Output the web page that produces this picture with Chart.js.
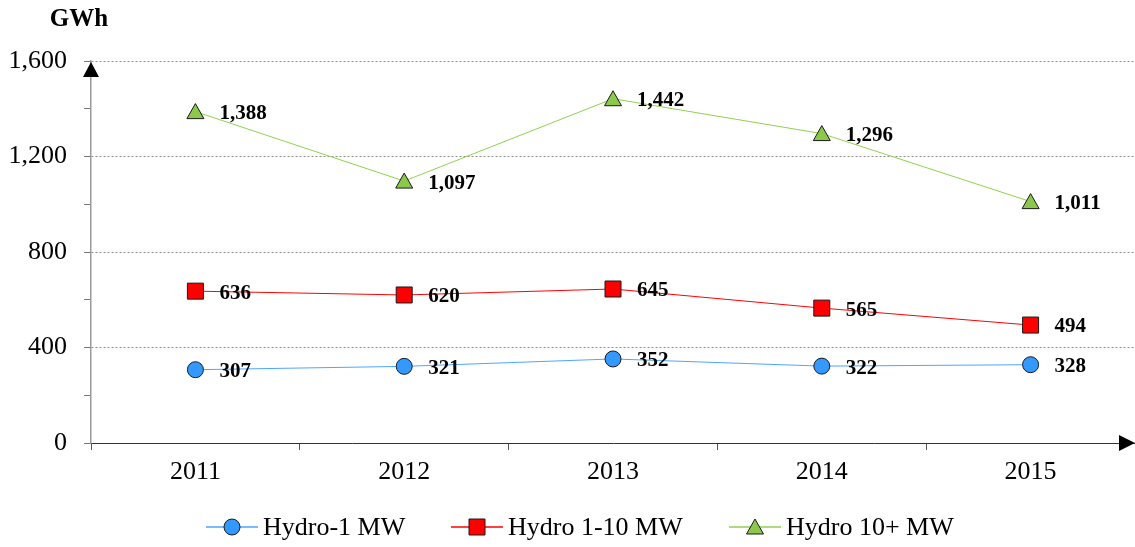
<!DOCTYPE html>
<html>
<head>
<meta charset="utf-8">
<script src="https://cdn.jsdelivr.net/npm/chart.js@4/dist/chart.umd.min.js"></script>
<style>
    html, body { margin: 0; padding: 0; background: #fff; }
    #wrap { width: 1135px; height: 547px; position: relative; }
</style>
</head>
<body>
<div id="wrap"><canvas id="hydroChart" width="1135" height="547"></canvas></div>
<script>
// chart data
const years = ['2011', '2012', '2013', '2014', '2015'];
const hydroSmall = [307, 321, 352, 322, 328];
const hydroMid = [636, 620, 645, 565, 494];
const hydroLarge = [1388, 1097, 1442, 1296, 1011];
const seriesNames = ['Hydro-1 MW', 'Hydro 1-10 MW', 'Hydro 10+ MW'];
const yTicks = [0, 400, 800, 1200, 1600];

const FONT = '"Liberation Serif", "Times New Roman", serif';

// draw a marker like the excel ones
function marker(ctx, style, x, y, fill) {
    ctx.save();
    ctx.fillStyle = fill;
    ctx.strokeStyle = '#1a1a1a';
    ctx.lineWidth = 1;
    ctx.beginPath();
    if (style === 'circle') {
        ctx.arc(x, y, 8, 0, Math.PI * 2);
    } else if (style === 'rect') {
        ctx.rect(x - 8, y - 8, 16, 16);
    } else {
        ctx.moveTo(x, y - 8);
        ctx.lineTo(x + 8.5, y + 7);
        ctx.lineTo(x - 8.5, y + 7);
        ctx.closePath();
    }
    ctx.fill();
    ctx.stroke();
    ctx.restore();
}

const extras = {
    id: 'extras',
    afterDatasetsDraw(chart) {
        const ctx = chart.ctx;
        const area = chart.chartArea;

        // axis arrows
        ctx.save();
        ctx.fillStyle = '#000';
        ctx.beginPath();
        ctx.moveTo(area.left, area.top + 1);
        ctx.lineTo(area.left + 8, area.top + 16);
        ctx.lineTo(area.left - 8, area.top + 16);
        ctx.closePath();
        ctx.fill();
        const yb = chart.scales.y.getPixelForValue(0);
        ctx.beginPath();
        ctx.moveTo(area.right, yb);
        ctx.lineTo(area.right - 16, yb - 8);
        ctx.lineTo(area.right - 16, yb + 8);
        ctx.closePath();
        ctx.fill();
        ctx.restore();

        // markers on top of lines, then value labels
        chart.data.datasets.forEach((ds, i) => {
            const meta = chart.getDatasetMeta(i);
            meta.data.forEach((pt, j) => {
                marker(ctx, ds.markerStyle, pt.x, pt.y, ds.markerFill);
                ctx.save();
                ctx.font = 'bold 21px ' + FONT;
                ctx.fillStyle = '#000';
                ctx.textAlign = 'left';
                ctx.textBaseline = 'middle';
                ctx.fillText(ds.data[j].toLocaleString('en-US'), pt.x + 24, pt.y + 2);
                ctx.restore();
            });
        });

        // unit label
        ctx.save();
        ctx.font = 'bold 25px ' + FONT;
        ctx.fillStyle = '#000';
        ctx.textAlign = 'center';
        ctx.textBaseline = 'middle';
        ctx.fillText('GWh', 79, 20);
        ctx.restore();

        // legend
        const legendX = [232, 477, 755];
        const ly = 527;
        chart.data.datasets.forEach((ds, i) => {
            const cx = legendX[i];
            ctx.save();
            ctx.strokeStyle = ds.borderColor;
            ctx.lineWidth = 1.5;
            ctx.beginPath();
            ctx.moveTo(cx - 26, ly);
            ctx.lineTo(cx + 26, ly);
            ctx.stroke();
            ctx.restore();
            marker(ctx, ds.markerStyle, cx, ly, ds.markerFill);
            ctx.save();
            ctx.font = '26px ' + FONT;
            ctx.fillStyle = '#000';
            ctx.textAlign = 'left';
            ctx.textBaseline = 'middle';
            ctx.fillText(seriesNames[i], cx + 31, ly + 1);
            ctx.restore();
        });
    }
};

const hydroChart = new Chart(document.getElementById('hydroChart'), {
    type: 'line',
    data: {
        labels: years,
        datasets: [
            { label: seriesNames[0], data: hydroSmall, borderColor: '#4da6ff', markerFill: '#3399ff', markerStyle: 'circle' },
            { label: seriesNames[1], data: hydroMid, borderColor: '#ff0000', markerFill: '#ff0000', markerStyle: 'rect' },
            { label: seriesNames[2], data: hydroLarge, borderColor: '#92d050', markerFill: '#8cc84b', markerStyle: 'triangle' }
        ].map(d => Object.assign(d, { borderWidth: 1, pointRadius: 0, tension: 0, fill: false }))
    },
    options: {
        responsive: false,
        animation: false,
        layout: { padding: { top: 61, left: 0, right: 0, bottom: 0 } },
        plugins: {
            legend: { display: false },
            tooltip: { enabled: false }
        },
        scales: {
            x: {
                offset: true,
                afterFit: s => { s.height = 104; },
                grid: {
                    offset: true,
                    drawOnChartArea: false,
                    tickLength: 7,
                    tickColor: '#555'
                },
                border: { color: '#333', width: 1 },
                ticks: {
                    color: '#000',
                    padding: 7,
                    font: { family: FONT, size: 26 }
                }
            },
            y: {
                min: 0,
                max: 1600,
                afterFit: s => { s.width = 91; },
                afterBuildTicks: s => {
                    s.ticks = [];
                    for (let v = 0; v <= 1600; v += 200) s.ticks.push({ value: v });
                },
                grid: {
                    color: c => (c.tick && c.tick.value > 0 && yTicks.includes(c.tick.value)) ? '#8c8c8c' : 'rgba(0,0,0,0)',
                    tickLength: 7,
                    tickColor: '#777'
                },
                border: { color: '#999', width: 1.5, dash: [2, 2] },
                ticks: {
                    color: '#000',
                    padding: 17,
                    font: { family: FONT, size: 26 },
                    callback: v => yTicks.includes(v) ? v.toLocaleString('en-US') : ''
                }
            }
        }
    },
    plugins: [extras]
});
</script>
</body>
</html>
